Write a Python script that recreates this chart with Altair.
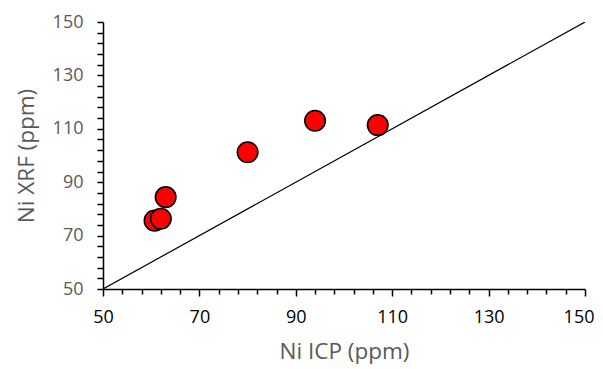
import altair as alt
import pandas as pd

icp = [60.7, 62.0, 63.0, 80.0, 94.0, 107.0]
xrf = [75.6, 76.3, 84.4, 101.2, 113.0, 111.4]
line_x = [50, 150]
line_y = [50, 150]
minor_vals = list(range(50, 151, 4))

df = pd.DataFrame({"icp": icp, "xrf": xrf})
ldf = pd.DataFrame({"x": line_x, "y": line_y})

FONT = "Open Sans"
xscale = alt.Scale(domain=[50, 150], nice=False, zero=False)
yscale = alt.Scale(domain=[50, 150], nice=False, zero=False)

major_test = "(datum.value - 50) % 20 == 0"
last_test = "datum.value == 150"

xaxis = alt.Axis(
    title="Ni ICP (ppm)", values=minor_vals,
    labelExpr="(datum.value - 50) % 20 == 0 ? datum.label : ''",
    grid=False, domainColor="black", domainWidth=1.5,
    tickColor="black", tickWidth=1.5,
    tickSize={"condition": {"test": major_test, "value": 7}, "value": 5},
    labelAlign={"condition": {"test": last_test, "value": "right"}, "value": "center"},
    labelOffset={"condition": {"test": last_test, "value": 9}, "value": 0},
    labelFont=FONT, labelFontSize=18, labelColor="black", labelPadding=12,
    titleFont=FONT, titleFontSize=22.5, titleFontWeight="normal", titleColor="#595959",
    titlePadding=14, labelFlush=False, labelOverlap=False,
)
yaxis = alt.Axis(
    title="Ni XRF (ppm)", values=minor_vals,
    labelExpr="(datum.value - 50) % 20 == 0 ? datum.label : ''",
    grid=False, domainColor="black", domainWidth=1.5,
    tickColor="black", tickWidth=1.5, tickSize=6,
    labelFont=FONT, labelFontSize=18, labelColor="#595959", labelPadding=14,
    titleFont=FONT, titleFontSize=22.5, titleFontWeight="normal", titleColor="#595959",
    titlePadding=14, labelFlush=False, labelOverlap=False,
)

line = alt.Chart(ldf).mark_line(color="black", strokeWidth=1.2, clip=True).encode(
    x=alt.X("x:Q", scale=xscale, axis=xaxis),
    y=alt.Y("y:Q", scale=yscale, axis=yaxis),
)
pts = alt.Chart(df).mark_circle(size=420, color="#ff0000", stroke="black",
                                 strokeWidth=1.6, opacity=1).encode(
    x=alt.X("icp:Q", scale=xscale, axis=xaxis),
    y=alt.Y("xrf:Q", scale=yscale, axis=yaxis),
)

chart = alt.layer(line, pts).properties(
    width=482, height=267,
    autosize=alt.AutoSizeParams(type="none"),
    padding={"left": 95, "top": 14, "right": 10, "bottom": 80},
).configure_view(stroke=None)

chart.save("out.html", embed_options={"renderer": "svg", "actions": False})
